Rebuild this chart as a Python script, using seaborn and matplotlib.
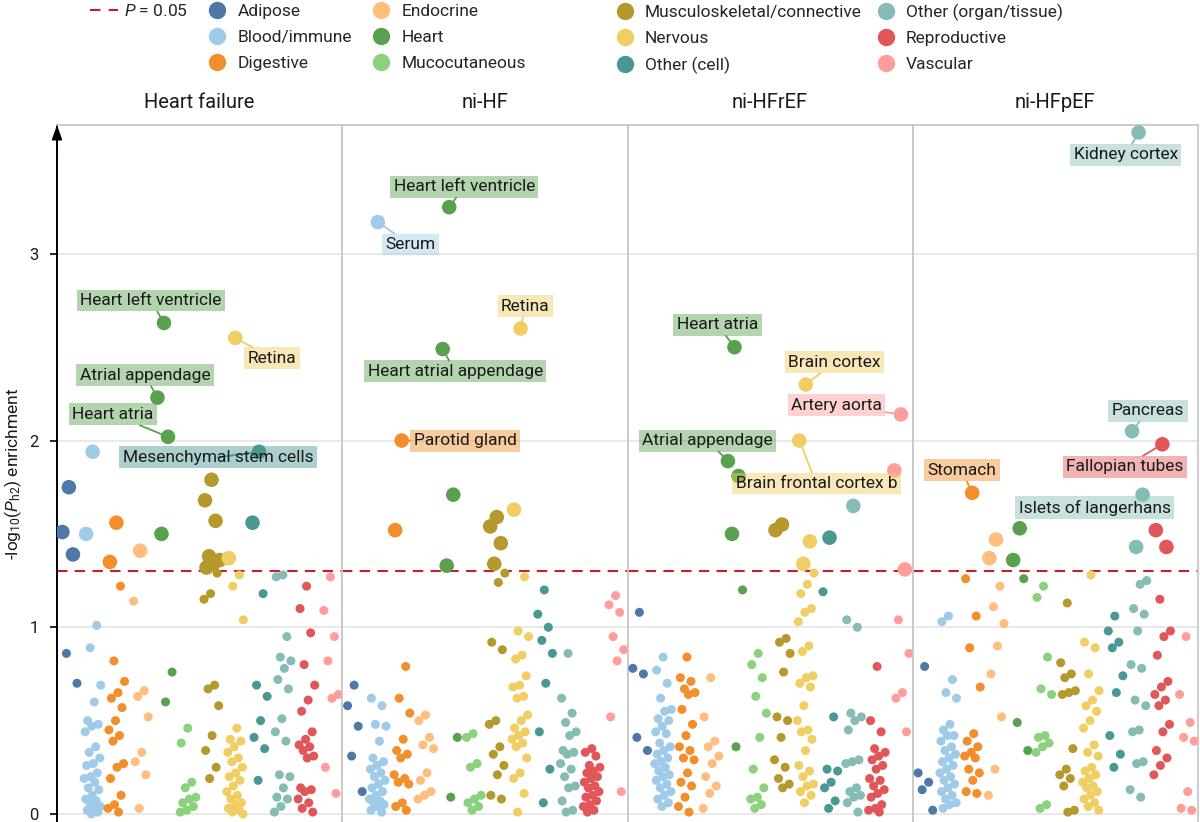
import matplotlib.pyplot as plt
import numpy as np
import pandas as pd
import seaborn as sns
from matplotlib.colors import to_rgba
from matplotlib.lines import Line2D

categories = ['Adipose', 'Blood/immune', 'Digestive', 'Endocrine', 'Heart', 'Mucocutaneous',
              'Musculoskeletal/connective', 'Nervous', 'Other (cell)', 'Other (organ/tissue)',
              'Reproductive', 'Vascular']
colors = ['#4E79A7', '#A0CBE8', '#F28E2B', '#FFBE7D', '#59A14F', '#8CD17D',
          '#B6992D', '#F1CE63', '#499894', '#86BCB6', '#E15759', '#FF9D9A']
panels = ['Heart failure', 'ni-HF', 'ni-HFrEF', 'ni-HFpEF']

# -log10(P_h2) per tissue, one list per category, one dict per panel
hf_vals = {
    'Adipose': [1.75, 1.51, 1.39, 0.86, 0.70],
    'Blood/immune': [1.94, 1.50, 1.01, 0.89, 0.69, 0.60, 0.50, 0.48, 0.47, 0.44, 0.36, 0.33, 0.30, 0.27,
                     0.26, 0.22, 0.20, 0.19, 0.17, 0.14, 0.13, 0.10, 0.08, 0.07, 0.06, 0.04, 0.03, 0.02,
                     0.01, 0.0],
    'Digestive': [1.56, 1.35, 1.22, 0.82, 0.71, 0.65, 0.62, 0.57, 0.50, 0.45, 0.42, 0.39, 0.27, 0.25,
                  0.19, 0.10, 0.05, 0.03, 0.01],
    'Endocrine': [1.41, 1.14, 0.66, 0.63, 0.52, 0.33, 0.28, 0.21, 0.03],
    'Heart': [2.63, 2.23, 2.02, 1.50, 0.76, 0.60],
    'Mucocutaneous': [0.46, 0.38, 0.17, 0.14, 0.09, 0.08, 0.06, 0.04, 0.02, 0.01],
    'Musculoskeletal/connective': [1.79, 1.68, 1.57, 1.38, 1.36, 1.34, 1.32, 1.29, 1.18, 1.15, 0.69, 0.67,
                                   0.58, 0.42, 0.34, 0.25, 0.19],
    'Nervous': [2.55, 1.37, 1.28, 1.22, 1.04, 0.46, 0.40, 0.39, 0.36, 0.33, 0.30, 0.28, 0.25, 0.22, 0.20,
                0.18, 0.15, 0.12, 0.10, 0.08, 0.06, 0.05, 0.03, 0.02, 0.01, 0.0],
    'Other (cell)': [1.94, 1.56, 1.18, 0.69, 0.63, 0.50, 0.41, 0.35, 0.18],
    'Other (organ/tissue)': [1.28, 1.27, 0.95, 0.84, 0.82, 0.78, 0.72, 0.67, 0.51, 0.44, 0.39, 0.21, 0.20,
                             0.14, 0.09, 0.08, 0.04, 0.01],
    'Reproductive': [1.22, 1.10, 0.97, 0.80, 0.69, 0.61, 0.55, 0.44, 0.40, 0.37, 0.36, 0.34, 0.31, 0.30,
                     0.14, 0.13, 0.12, 0.08, 0.06, 0.03, 0.01],
    'Vascular': [1.27, 1.09, 0.95, 0.82, 0.64, 0.62, 0.25, 0.11],
}
nihf_vals = {
    'Adipose': [0.69, 0.58, 0.47, 0.31, 0.12],
    'Blood/immune': [3.17, 0.62, 0.58, 0.48, 0.47, 0.39, 0.30, 0.28, 0.26, 0.24, 0.22, 0.20, 0.18, 0.16,
                     0.14, 0.12, 0.10, 0.08, 0.07, 0.06, 0.05, 0.04, 0.02, 0.01],
    'Digestive': [2.00, 1.52, 0.79, 0.62, 0.54, 0.40, 0.34, 0.32, 0.30, 0.21, 0.19, 0.17, 0.16, 0.06,
                  0.04, 0.02],
    'Endocrine': [0.53, 0.50, 0.41, 0.37, 0.35, 0.22, 0.18, 0.12, 0.10, 0.08],
    'Heart': [3.25, 2.49, 1.71, 1.33, 0.41, 0.09],
    'Mucocutaneous': [0.43, 0.41, 0.27, 0.25, 0.10, 0.08, 0.06, 0.04, 0.02],
    'Musculoskeletal/connective': [1.59, 1.54, 1.45, 1.34, 1.29, 1.24, 0.92, 0.88, 0.50, 0.48, 0.36, 0.32,
                                   0.26, 0.21, 0.10, 0.08],
    'Nervous': [2.60, 1.63, 1.27, 0.98, 0.95, 0.85, 0.83, 0.74, 0.69, 0.68, 0.63, 0.62, 0.53, 0.50, 0.46,
                0.44, 0.42, 0.40, 0.38, 0.36, 0.30, 0.22, 0.19, 0.11, 0.01],
    'Other (cell)': [1.20, 1.07, 1.00, 0.93, 0.86, 0.70, 0.44, 0.24, 0.06],
    'Other (organ/tissue)': [0.86, 0.62, 0.54, 0.49, 0.44, 0.42, 0.34, 0.33, 0.32, 0.27, 0.24, 0.20, 0.15,
                             0.14, 0.07, 0.02, 0.01],
    'Reproductive': [0.35, 0.33, 0.31, 0.26, 0.25, 0.23, 0.22, 0.20, 0.19, 0.17, 0.15, 0.14, 0.12, 0.10,
                     0.09, 0.07, 0.05, 0.04, 0.02, 0.01],
    'Vascular': [1.17, 1.12, 1.08, 0.95, 0.88, 0.82, 0.52, 0.12],
}
nihfref_vals = {
    'Adipose': [1.08, 0.78, 0.75, 0.41, 0.34],
    'Blood/immune': [0.84, 0.77, 0.70, 0.62, 0.56, 0.55, 0.51, 0.50, 0.47, 0.44, 0.43, 0.38, 0.36, 0.34,
                     0.32, 0.30, 0.28, 0.27, 0.25, 0.23, 0.21, 0.20, 0.18, 0.16, 0.14, 0.12, 0.10, 0.08,
                     0.06, 0.04],
    'Digestive': [0.84, 0.73, 0.71, 0.67, 0.65, 0.64, 0.56, 0.48, 0.42, 0.36, 0.34, 0.30, 0.29, 0.22,
                  0.17, 0.15, 0.09, 0.04, 0.01],
    'Endocrine': [0.73, 0.52, 0.39, 0.36, 0.31, 0.27, 0.20, 0.15, 0.11, 0.03],
    'Heart': [2.50, 1.89, 1.81, 1.50, 1.20, 0.36],
    'Mucocutaneous': [0.86, 0.80, 0.73, 0.63, 0.54, 0.41, 0.24, 0.14, 0.09, 0.08, 0.05, 0.03],
    'Musculoskeletal/connective': [1.55, 1.52, 0.94, 0.92, 0.86, 0.76, 0.52, 0.50, 0.41, 0.29, 0.25, 0.19,
                                   0.16, 0.14],
    'Nervous': [2.30, 2.00, 1.46, 1.34, 1.29, 1.23, 1.18, 1.10, 1.08, 1.03, 0.90, 0.87, 0.74, 0.73, 0.70,
                0.68, 0.58, 0.50, 0.45, 0.44, 0.40, 0.34, 0.26, 0.23, 0.20, 0.16, 0.15, 0.12, 0.10, 0.06],
    'Other (cell)': [1.48, 1.19, 0.52, 0.24, 0.23, 0.17, 0.14, 0.07, 0.03],
    'Other (organ/tissue)': [1.65, 1.04, 1.00, 0.54, 0.52, 0.50, 0.45, 0.29, 0.28, 0.27, 0.14, 0.12, 0.10,
                             0.09, 0.06, 0.01],
    'Reproductive': [0.79, 0.50, 0.44, 0.35, 0.33, 0.31, 0.29, 0.26, 0.24, 0.19, 0.18, 0.15, 0.13, 0.11,
                     0.09, 0.05, 0.03, 0.02, 0.01],
    'Vascular': [2.14, 1.84, 1.31, 1.04, 0.86, 0.65, 0.62, 0.44],
}
nihfpef_vals = {
    'Adipose': [0.79, 0.22, 0.17, 0.13, 0.02],
    'Blood/immune': [1.06, 1.03, 0.72, 0.65, 0.62, 0.48, 0.45, 0.42, 0.42, 0.39, 0.36, 0.34, 0.32, 0.30,
                     0.28, 0.26, 0.24, 0.22, 0.20, 0.18, 0.16, 0.14, 0.12, 0.10, 0.08, 0.06, 0.05, 0.03],
    'Digestive': [1.72, 1.26, 1.06, 0.89, 0.68, 0.43, 0.39, 0.36, 0.33, 0.31, 0.30, 0.24, 0.22, 0.18,
                  0.12, 0.11],
    'Endocrine': [1.47, 1.37, 1.22, 1.11, 1.02, 0.90, 0.75, 0.52, 0.24, 0.10],
    'Heart': [1.53, 1.36, 1.26, 0.49, 0.34],
    'Mucocutaneous': [1.22, 1.16, 0.84, 0.67, 0.64, 0.42, 0.41, 0.38, 0.36, 0.33, 0.05, 0.03],
    'Musculoskeletal/connective': [1.13, 0.81, 0.75, 0.73, 0.66, 0.65, 0.64, 0.35, 0.24, 0.21, 0.19, 0.15,
                                   0.02, 0.01],
    'Nervous': [1.28, 0.92, 0.89, 0.75, 0.66, 0.61, 0.58, 0.55, 0.50, 0.46, 0.37, 0.33, 0.31, 0.25, 0.23,
                0.21, 0.19, 0.17, 0.15, 0.14, 0.12, 0.10, 0.08, 0.06, 0.04, 0.02],
    'Other (cell)': [1.06, 0.98, 0.92, 0.89, 0.74, 0.65, 0.42, 0.32, 0.25],
    'Other (organ/tissue)': [3.65, 2.05, 1.71, 1.43, 1.25, 1.23, 1.10, 1.07, 0.98, 0.80, 0.78, 0.61, 0.58,
                             0.45, 0.44, 0.28, 0.27, 0.13, 0.09],
    'Reproductive': [1.98, 1.52, 1.43, 1.15, 0.98, 0.95, 0.85, 0.71, 0.68, 0.64, 0.61, 0.58, 0.48, 0.44,
                     0.34, 0.30, 0.26, 0.21],
    'Vascular': [0.95, 0.64, 0.49, 0.41, 0.39, 0.12, 0.03, 0.02],
}
panel_values = [hf_vals, nihf_vals, nihfref_vals, nihfpef_vals]

# labelled tissues: (text, category, value)
hf_labels = [('Heart left ventricle', 'Heart', 2.63), ('Retina', 'Nervous', 2.55),
             ('Atrial appendage', 'Heart', 2.23), ('Heart atria', 'Heart', 2.02),
             ('Mesenchymal stem cells', 'Other (cell)', 1.94)]
nihf_labels = [('Heart left ventricle', 'Heart', 3.25), ('Serum', 'Blood/immune', 3.17),
               ('Retina', 'Nervous', 2.60), ('Heart atrial appendage', 'Heart', 2.49),
               ('Parotid gland', 'Digestive', 2.00)]
nihfref_labels = [('Heart atria', 'Heart', 2.50), ('Brain cortex', 'Nervous', 2.30),
                  ('Artery aorta', 'Vascular', 2.14), ('Atrial appendage', 'Heart', 1.89),
                  ('Brain frontal cortex b', 'Nervous', 2.00)]
nihfpef_labels = [('Kidney cortex', 'Other (organ/tissue)', 3.65), ('Pancreas', 'Other (organ/tissue)', 2.05),
                  ('Fallopian tubes', 'Reproductive', 1.98), ('Stomach', 'Digestive', 1.72),
                  ('Islets of langerhans', 'Other (organ/tissue)', 1.71)]
panel_labels = [hf_labels, nihf_labels, nihfref_labels, nihfpef_labels]

# label box centres (layout, data coords of each panel)
hf_boxes = [(3.45, 2.75), (8.55, 2.44), (3.20, 2.35), (1.86, 2.14), (6.27, 1.91)]
nihf_boxes = [(4.63, 3.36), (2.36, 3.05), (7.20, 2.72), (4.25, 2.37), (4.67, 2.00)]
nihfref_boxes = [(3.29, 2.62), (8.21, 2.42), (8.29, 2.19), (2.87, 2.00), (7.45, 1.77)]
nihfpef_boxes = [(8.46, 3.53), (9.39, 2.16), (8.42, 1.86), (1.56, 1.84), (7.16, 1.64)]
panel_boxes = [hf_boxes, nihf_boxes, nihfref_boxes, nihfpef_boxes]

thresh = -np.log10(0.05)
pal = dict(zip(categories, colors))


def spread(n):
    # deterministic horizontal spread inside a category column
    k = np.arange(n)
    return 0.36 * (((k * 0.618034 + 0.5) % 1.0) * 2 - 1)


rows = []
for name, vals in zip(panels, panel_values):
    for ci, cat in enumerate(categories):
        off = spread(len(vals[cat]))
        for k, v in enumerate(vals[cat]):
            rows.append({'panel': name, 'category': cat, 'logp': v, 'xpos': ci + off[k]})
df = pd.DataFrame(rows)
df['sig'] = np.where(df['logp'] > thresh, 'sig', 'ns')
df = df.sort_values('sig').reset_index(drop=True)

sns.set_theme(style='white')
plt.rcParams['font.family'] = ['Roboto', 'DejaVu Sans']
plt.rcParams['mathtext.fontset'] = 'custom'
plt.rcParams['mathtext.it'] = 'Roboto:italic'
plt.rcParams['mathtext.rm'] = 'Roboto'

fig = plt.figure(figsize=(12, 8.22), dpi=100)
left0 = 57 / 1200
pw = 285.25 / 1200
ax_h = (822 - 125) / 822
grey = '#c8c8c8'
ink = '#1a1a1a'

for p, name in enumerate(panels):
    ax = fig.add_axes([left0 + p * pw, 0.0, pw, ax_h])
    sub = df[df['panel'] == name]
    ax.axhline(thresh, color='#c62026', lw=1.5, ls=(0, (5, 3.5)), zorder=2)
    sns.scatterplot(data=sub, x='xpos', y='logp', hue='category', hue_order=categories, palette=pal,
                    size='sig', sizes={'sig': 110, 'ns': 42}, linewidth=0, legend=False, ax=ax, zorder=3)
    ax.set_xlim(-0.5, 11.5)
    ax.set_ylim(-0.043, 3.69)
    ax.set_yticks([0, 1, 2, 3])
    ax.grid(axis='y', color='#e3e3e3', lw=1.1, zorder=0)
    ax.set_axisbelow(True)
    ax.set_xticks([])
    ax.set_xlabel('')
    ax.set_ylabel('')
    ax.set_title(name, fontsize=14.5, pad=12, color=ink)
    ax.spines['bottom'].set_visible(False)
    for s in ['top', 'right', 'left']:
        ax.spines[s].set_color(grey)
        ax.spines[s].set_linewidth(1.3)
    if p == 0:
        ax.spines['left'].set_color('black')
        ax.spines['left'].set_linewidth(1.4)
        ax.tick_params(axis='y', left=True, length=5, width=1.2, color='black', pad=8,
                       labelsize=12, labelcolor=ink)
        ax.set_ylabel(r'-log$_{10}$($P_{\mathrm{h2}}$) enrichment', fontsize=12.5, labelpad=4, color=ink)
        ax.annotate('', xy=(0, 1.0), xytext=(0, 0.96), xycoords='axes fraction',
                    arrowprops=dict(arrowstyle='-|>,head_width=0.25,head_length=0.7', color='black',
                                    lw=1.4, shrinkA=0, shrinkB=0), annotation_clip=False)
    else:
        ax.tick_params(axis='y', left=False, labelleft=False)

    for (text, cat, val), (bx, by) in zip(panel_labels[p], panel_boxes[p]):
        hit = sub[(sub['category'] == cat) & (np.isclose(sub['logp'], val))].iloc[0]
        ax.annotate(text, xy=(hit['xpos'], val), xytext=(bx, by), ha='center', va='center',
                    fontsize=12.5, color=ink, zorder=5,
                    bbox=dict(boxstyle='square,pad=0.2', fc=to_rgba(pal[cat], 0.45), ec='none'),
                    arrowprops=dict(arrowstyle='-', color=pal[cat], lw=1.3, shrinkA=0, shrinkB=4))

# legend
dash = Line2D([], [], color='#c62026', lw=1.5, ls=(0, (5, 4)))
blank = Line2D([], [], color='none')


def dot(c):
    return Line2D([], [], marker='o', ls='none', markersize=12.5, markerfacecolor=c, markeredgewidth=0)


h1 = [dash, blank, blank] + [dot(c) for c in colors[:6]]
l1 = [r'$P$ = 0.05', '', ''] + categories[:6]
h2 = [dot(c) for c in colors[6:]]
l2 = categories[6:]
leg_kw = dict(frameon=False, fontsize=12.5, handlelength=1.6, handletextpad=0.35,
              labelspacing=0.62, borderpad=0, borderaxespad=0, loc='upper left')
fig.legend(h1, l1, ncol=3, columnspacing=0.9, bbox_to_anchor=(90 / 1200, 0.996), **leg_kw)
fig.legend(h2, l2, ncol=2, columnspacing=0.6, bbox_to_anchor=(611 / 1200, 0.996), **leg_kw)

fig.savefig('out.png', dpi=100)
